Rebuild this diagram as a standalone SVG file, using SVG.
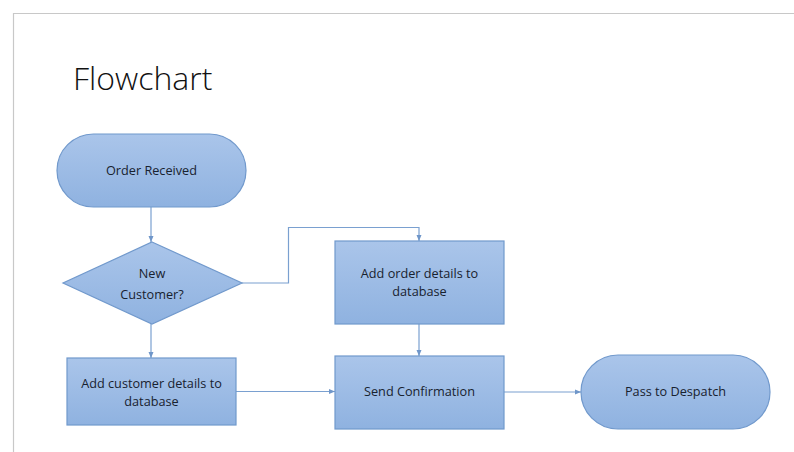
<svg xmlns="http://www.w3.org/2000/svg" width="794" height="452" viewBox="0 0 794 452">
  <defs>
    <linearGradient id="fillGrad" x1="0" y1="0" x2="0" y2="1">
      <stop offset="0" stop-color="#aac5ea"/>
      <stop offset="1" stop-color="#8fb2e0"/>
    </linearGradient>
    <marker id="arrow" viewBox="0 0 6 6" refX="6" refY="3" markerWidth="6" markerHeight="6" markerUnits="userSpaceOnUse" orient="auto">
      <path d="M0,0.5 L6,3 L0,5.5 Z" fill="#6f96c9"/>
    </marker>
  </defs>
  <style>
    .shape { fill: url(#fillGrad); stroke: #7199cc; stroke-width: 1.2; }
    .label { font-family: "Open Sans", "Liberation Sans", sans-serif; font-size: 12.7px; fill: #18222f; text-anchor: middle; }
    .conn { fill: none; stroke: #7aa0d0; stroke-width: 1.2; marker-end: url(#arrow); }
  </style>

  <rect x="0" y="0" width="794" height="452" fill="#ffffff"/>
  <!-- slide frame -->
  <path d="M13.5,452 V13.5 H794" fill="none" stroke="#c8c8c8" stroke-width="1.2"/>

  <text x="73" y="90" font-family="'Open Sans', 'Liberation Sans', sans-serif" font-weight="300" font-size="32" fill="#111111">Flowchart</text>

  <!-- connectors -->
  <g id="connectors">
    <line class="conn" x1="151" y1="207" x2="151" y2="242"/>
    <polyline class="conn" points="242,283 288.5,283 288.5,227.5 419,227.5 419,241"/>
    <line class="conn" x1="151" y1="324" x2="151" y2="358"/>
    <line class="conn" x1="419" y1="324" x2="419" y2="356"/>
    <line class="conn" x1="236" y1="391.5" x2="335" y2="391.5"/>
    <line class="conn" x1="504" y1="392" x2="581" y2="392"/>
  </g>

  <g id="order-received">
    <rect class="shape" x="57" y="134" width="189" height="73" rx="36.5" ry="36.5"/>
    <text class="label" x="151.5" y="175">Order Received</text>
  </g>

  <g id="new-customer">
    <polygon class="shape" points="152,242 242,283 152,324 63,283"/>
    <text class="label" x="152" y="278">New</text>
    <text class="label" x="152" y="299">Customer?</text>
  </g>

  <g id="add-order-details">
    <rect class="shape" x="335" y="241" width="169" height="83"/>
    <text class="label" x="419.5" y="278">Add order details to</text>
    <text class="label" x="419.5" y="296">database</text>
  </g>

  <g id="add-customer-details">
    <rect class="shape" x="67" y="358" width="169" height="67"/>
    <text class="label" x="151.5" y="388">Add customer details to</text>
    <text class="label" x="151.5" y="406">database</text>
  </g>

  <g id="send-confirmation">
    <rect class="shape" x="335" y="356" width="169" height="73"/>
    <text class="label" x="419.5" y="396">Send Confirmation</text>
  </g>

  <g id="pass-to-despatch">
    <rect class="shape" x="581" y="355" width="189" height="74" rx="37" ry="37"/>
    <text class="label" x="675.5" y="396">Pass to Despatch</text>
  </g>
</svg>
